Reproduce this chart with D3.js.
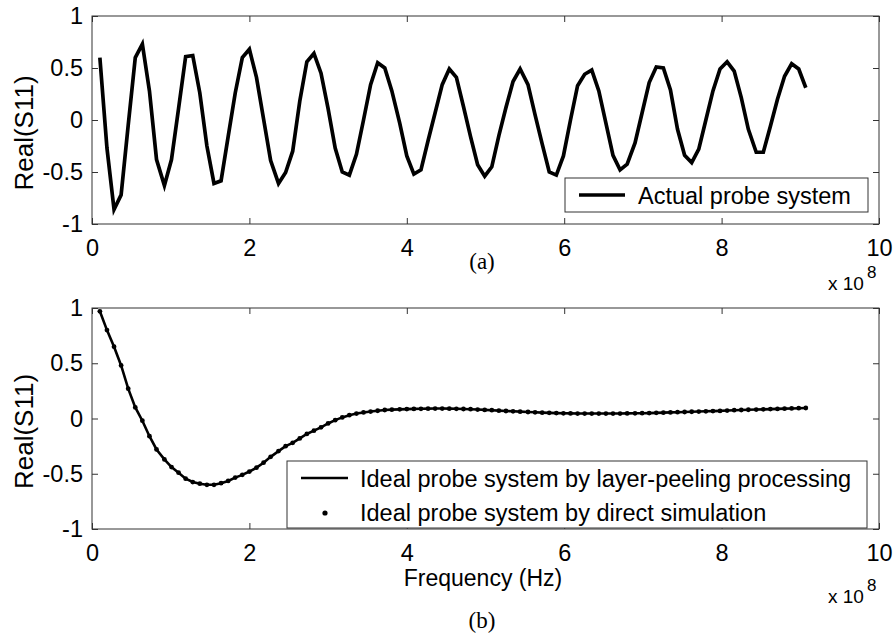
<!DOCTYPE html>
<html>
<head>
<meta charset="utf-8">
<script src="https://cdn.jsdelivr.net/npm/d3@7"></script>
<style>
  body { margin: 0; background: #ffffff; }
</style>
</head>
<body>
<div id="chart"></div>
<script>

// Frequency grid (x 10^8 Hz)
const freq = [
    0.10, 0.19, 0.28, 0.37, 0.46, 0.55, 0.64, 0.73, 0.82, 0.92,
    1.01, 1.10, 1.19, 1.28, 1.37, 1.46, 1.55, 1.64, 1.73, 1.82,
    1.91, 2.00, 2.09, 2.18, 2.27, 2.37, 2.46, 2.55, 2.64, 2.73,
    2.82, 2.91, 3.00, 3.09, 3.18, 3.27, 3.36, 3.45, 3.54, 3.63,
    3.72, 3.81, 3.91, 4.00, 4.09, 4.18, 4.27, 4.36, 4.45, 4.54,
    4.63, 4.72, 4.81, 4.90, 4.99, 5.08, 5.17, 5.26, 5.35, 5.44,
    5.54, 5.63, 5.72, 5.81, 5.90, 5.99, 6.08, 6.17, 6.26, 6.35,
    6.44, 6.53, 6.62, 6.71, 6.80, 6.90, 6.99, 7.08, 7.17, 7.26,
    7.35, 7.44, 7.53, 7.62, 7.71, 7.80, 7.89, 7.98, 8.07, 8.16,
    8.25, 8.34, 8.44, 8.53, 8.62, 8.71, 8.80, 8.89, 8.98, 9.07
];

// (a) Real(S11) of the actual probe system
const actualProbe = [
    0.60, -0.27, -0.86, -0.72, -0.05, 0.60, 0.73, 0.28, -0.38, -0.63,
    -0.38, 0.11, 0.61, 0.62, 0.26, -0.25, -0.61, -0.585, -0.16, 0.26,
    0.60, 0.68, 0.41, 0.01, -0.39, -0.61, -0.505, -0.30, 0.18, 0.56,
    0.64, 0.45, 0.11, -0.27, -0.50, -0.53, -0.33, 0.00, 0.34, 0.55,
    0.50, 0.28, -0.03, -0.345, -0.52, -0.48, -0.20, 0.07, 0.34, 0.49,
    0.41, 0.13, -0.16, -0.43, -0.54, -0.45, -0.15, 0.12, 0.37, 0.49,
    0.34, 0.05, -0.23, -0.50, -0.53, -0.345, 0.00, 0.33, 0.44, 0.48,
    0.28, -0.03, -0.34, -0.48, -0.425, -0.22, 0.07, 0.36, 0.51, 0.50,
    0.29, -0.09, -0.34, -0.41, -0.28, 0.00, 0.28, 0.49, 0.56, 0.47,
    0.215, -0.09, -0.31, -0.31, -0.06, 0.20, 0.42, 0.54, 0.49, 0.31
];

// (b) Real(S11) of the ideal probe system, layer-peeling processing
const layerPeeling = [
    0.97, 0.80, 0.65, 0.48, 0.27, 0.10, -0.02, -0.16, -0.28, -0.37,
    -0.44, -0.49, -0.545, -0.575, -0.59, -0.60, -0.60, -0.585, -0.565, -0.535,
    -0.51, -0.48, -0.445, -0.40, -0.347, -0.295, -0.25, -0.22, -0.18, -0.14,
    -0.11, -0.08, -0.045, -0.015, 0.01, 0.03, 0.045, 0.055, 0.063, 0.07,
    0.077, 0.08, 0.083, 0.085, 0.087, 0.088, 0.089, 0.09, 0.09, 0.089,
    0.088, 0.086, 0.084, 0.081, 0.078, 0.075, 0.071, 0.068, 0.065, 0.062,
    0.059, 0.056, 0.053, 0.051, 0.049, 0.047, 0.046, 0.045, 0.045, 0.045,
    0.045, 0.045, 0.045, 0.045, 0.046, 0.047, 0.048, 0.049, 0.051, 0.053,
    0.055, 0.057, 0.059, 0.061, 0.063, 0.065, 0.067, 0.069, 0.072, 0.075,
    0.077, 0.079, 0.081, 0.083, 0.085, 0.087, 0.089, 0.091, 0.093, 0.095
];

// (b) direct simulation: the dots lie on the processed curve
const directSim = [
    0.97, 0.80, 0.65, 0.48, 0.27, 0.10, -0.02, -0.16, -0.28, -0.37,
    -0.44, -0.49, -0.545, -0.575, -0.59, -0.60, -0.60, -0.585, -0.565, -0.535,
    -0.51, -0.48, -0.445, -0.40, -0.347, -0.295, -0.25, -0.22, -0.18, -0.14,
    -0.11, -0.08, -0.045, -0.015, 0.01, 0.03, 0.045, 0.055, 0.063, 0.07,
    0.077, 0.08, 0.083, 0.085, 0.087, 0.088, 0.089, 0.09, 0.09, 0.089,
    0.088, 0.086, 0.084, 0.081, 0.078, 0.075, 0.071, 0.068, 0.065, 0.062,
    0.059, 0.056, 0.053, 0.051, 0.049, 0.047, 0.046, 0.045, 0.045, 0.045,
    0.045, 0.045, 0.045, 0.045, 0.046, 0.047, 0.048, 0.049, 0.051, 0.053,
    0.055, 0.057, 0.059, 0.061, 0.063, 0.065, 0.067, 0.069, 0.072, 0.075,
    0.077, 0.079, 0.081, 0.083, 0.085, 0.087, 0.089, 0.091, 0.093, 0.095
];

// axis ticks and labels
const xTicks = [0, 2, 4, 6, 8, 10];
const yTicks = [-1, -0.5, 0, 0.5, 1];
const xDomain = [0, 10];
const yDomain = [-1, 1];
const yLabel = "Real(S11)";
const xLabel = "Frequency (Hz)";
const legendTop = ["Actual probe system"];
const legendBottom = ["Ideal probe system by layer-peeling processing", "Ideal probe system by direct simulation"];
const panelNames = ["(a)", "(b)"];

//---------------------------------------------------------------------------------------

const width = 894;
const height = 638;
const sans = "'Liberation Sans', Arial, Helvetica, sans-serif";
const serif = "'Liberation Serif', 'Times New Roman', serif";
const boxColor = "#333";

const svg = d3.select("#chart")
    .append("svg")
    .attr("width", width)
    .attr("height", height)
    .style("display", "block");

// échelle commune en X
const scaleX = d3.scaleLinear()
    .domain(xDomain)
    .range([92, 879]);

// dessin d'un panneau : cadre, graduations, étiquettes
function drawPanel(top, bottom, showXLabel) {

    const scaleY = d3.scaleLinear()
        .domain(yDomain)
        .range([bottom, top]);

    const g = svg.append("g");

    // graduations du bas avec textes
    g.append("g")
        .attr("transform", `translate(0, ${bottom})`)
        .call(d3.axisBottom(scaleX)
            .tickValues(xTicks)
            .tickSizeInner(-6)
            .tickSizeOuter(0)
            .tickPadding(15)
            .tickFormat(d3.format("d")))
        .call(a => a.select(".domain").remove())
        .call(a => a.selectAll("text")
            .attr("font-family", sans)
            .attr("font-size", "23.5px")
            .attr("fill", "#000"));

    // graduations du haut sans texte
    g.append("g")
        .attr("transform", `translate(0, ${top})`)
        .call(d3.axisTop(scaleX)
            .tickValues(xTicks)
            .tickSizeInner(-6)
            .tickSizeOuter(0)
            .tickFormat(""))
        .call(a => a.select(".domain").remove());

    // graduations de gauche avec textes
    g.append("g")
        .attr("transform", `translate(${scaleX(xDomain[0])}, 0)`)
        .call(d3.axisLeft(scaleY)
            .tickValues(yTicks)
            .tickSizeInner(-6)
            .tickSizeOuter(0)
            .tickPadding(9)
            .tickFormat(d => d))
        .call(a => a.select(".domain").remove())
        .call(a => a.selectAll("text")
            .attr("font-family", sans)
            .attr("font-size", "23.5px")
            .attr("fill", "#000"));

    // graduations de droite sans texte
    g.append("g")
        .attr("transform", `translate(${scaleX(xDomain[1])}, 0)`)
        .call(d3.axisRight(scaleY)
            .tickValues(yTicks)
            .tickSizeInner(-6)
            .tickSizeOuter(0)
            .tickFormat(""))
        .call(a => a.select(".domain").remove());

    g.selectAll(".tick line").attr("stroke", boxColor);

    // cadre
    g.append("rect")
        .attr("x", scaleX(xDomain[0]))
        .attr("y", top)
        .attr("width", scaleX(xDomain[1]) - scaleX(xDomain[0]))
        .attr("height", bottom - top)
        .attr("fill", "none")
        .attr("stroke", boxColor)
        .attr("stroke-width", 1);

    // titre de l'axe Y
    g.append("text")
        .attr("transform", `translate(33, ${(top + bottom) / 2 + 13}) rotate(-90)`)
        .attr("text-anchor", "middle")
        .attr("font-family", sans)
        .attr("font-size", "26px")
        .text(yLabel);

    // multiplicateur x 10^8
    const expY = showXLabel ? bottom + 74 : bottom + 66;
    const expo = g.append("text")
        .attr("x", 828)
        .attr("y", expY)
        .attr("font-family", sans)
        .attr("font-size", "19px");
    expo.append("tspan").text("x 10");
    expo.append("tspan")
        .attr("dx", 3)
        .attr("dy", -12)
        .attr("font-size", "17px")
        .text("8");

    if (showXLabel) {
        g.append("text")
            .attr("x", 483)
            .attr("y", bottom + 57)
            .attr("text-anchor", "middle")
            .attr("font-family", sans)
            .attr("font-size", "23px")
            .text(xLabel);
    }

    return scaleY;
}

//---------------------------------------------------------------------------------------

// Panneau (a)
const yTop = drawPanel(16, 224, false);

const lineTop = d3.line()
    .x((d, i) => scaleX(freq[i]))
    .y(d => yTop(d));

svg.append("path")
    .attr("d", lineTop(actualProbe))
    .attr("fill", "none")
    .attr("stroke", "#000")
    .attr("stroke-width", 3.7)
    .attr("stroke-linejoin", "miter");

// légende (a)
const legA = svg.append("g").attr("transform", "translate(565, 178)");
legA.append("rect")
    .attr("width", 303)
    .attr("height", 34)
    .attr("fill", "#fff")
    .attr("stroke", boxColor);
legA.append("line")
    .attr("x1", 14).attr("x2", 60)
    .attr("y1", 17).attr("y2", 17)
    .attr("stroke", "#000")
    .attr("stroke-width", 3.7);
legA.append("text")
    .attr("x", 73)
    .attr("y", 26)
    .attr("font-family", sans)
    .attr("font-size", "23.5px")
    .text(legendTop[0]);

svg.append("text")
    .attr("x", 482)
    .attr("y", 269)
    .attr("text-anchor", "middle")
    .attr("font-family", serif)
    .attr("font-size", "23px")
    .text(panelNames[0]);

//---------------------------------------------------------------------------------------

// Panneau (b)
const yBot = drawPanel(308, 529, true);

const lineBot = d3.line()
    .x((d, i) => scaleX(freq[i]))
    .y(d => yBot(d));

svg.append("path")
    .attr("d", lineBot(layerPeeling))
    .attr("fill", "none")
    .attr("stroke", "#000")
    .attr("stroke-width", 2.6);

svg.append("g")
    .selectAll("circle")
    .data(directSim)
    .join("circle")
    .attr("cx", (d, i) => scaleX(freq[i]))
    .attr("cy", d => yBot(d))
    .attr("r", 2.4)
    .attr("fill", "#000");

// légende (b)
const legB = svg.append("g").attr("transform", "translate(287, 461)");
legB.append("rect")
    .attr("width", 580)
    .attr("height", 67)
    .attr("fill", "#fff")
    .attr("stroke", boxColor);
legB.append("line")
    .attr("x1", 14).attr("x2", 61)
    .attr("y1", 17).attr("y2", 17)
    .attr("stroke", "#000")
    .attr("stroke-width", 2.6);
legB.append("circle")
    .attr("cx", 38)
    .attr("cy", 52)
    .attr("r", 2.6)
    .attr("fill", "#000");
legB.selectAll("text.lab")
    .data(legendBottom)
    .join("text")
    .attr("class", "lab")
    .attr("x", 73)
    .attr("y", (d, i) => 26 + i * 34)
    .attr("font-family", sans)
    .attr("font-size", "23.5px")
    .text(d => d);

svg.append("text")
    .attr("x", 482)
    .attr("y", 628)
    .attr("text-anchor", "middle")
    .attr("font-family", serif)
    .attr("font-size", "23px")
    .text(panelNames[1]);

</script>
</body>
</html>
